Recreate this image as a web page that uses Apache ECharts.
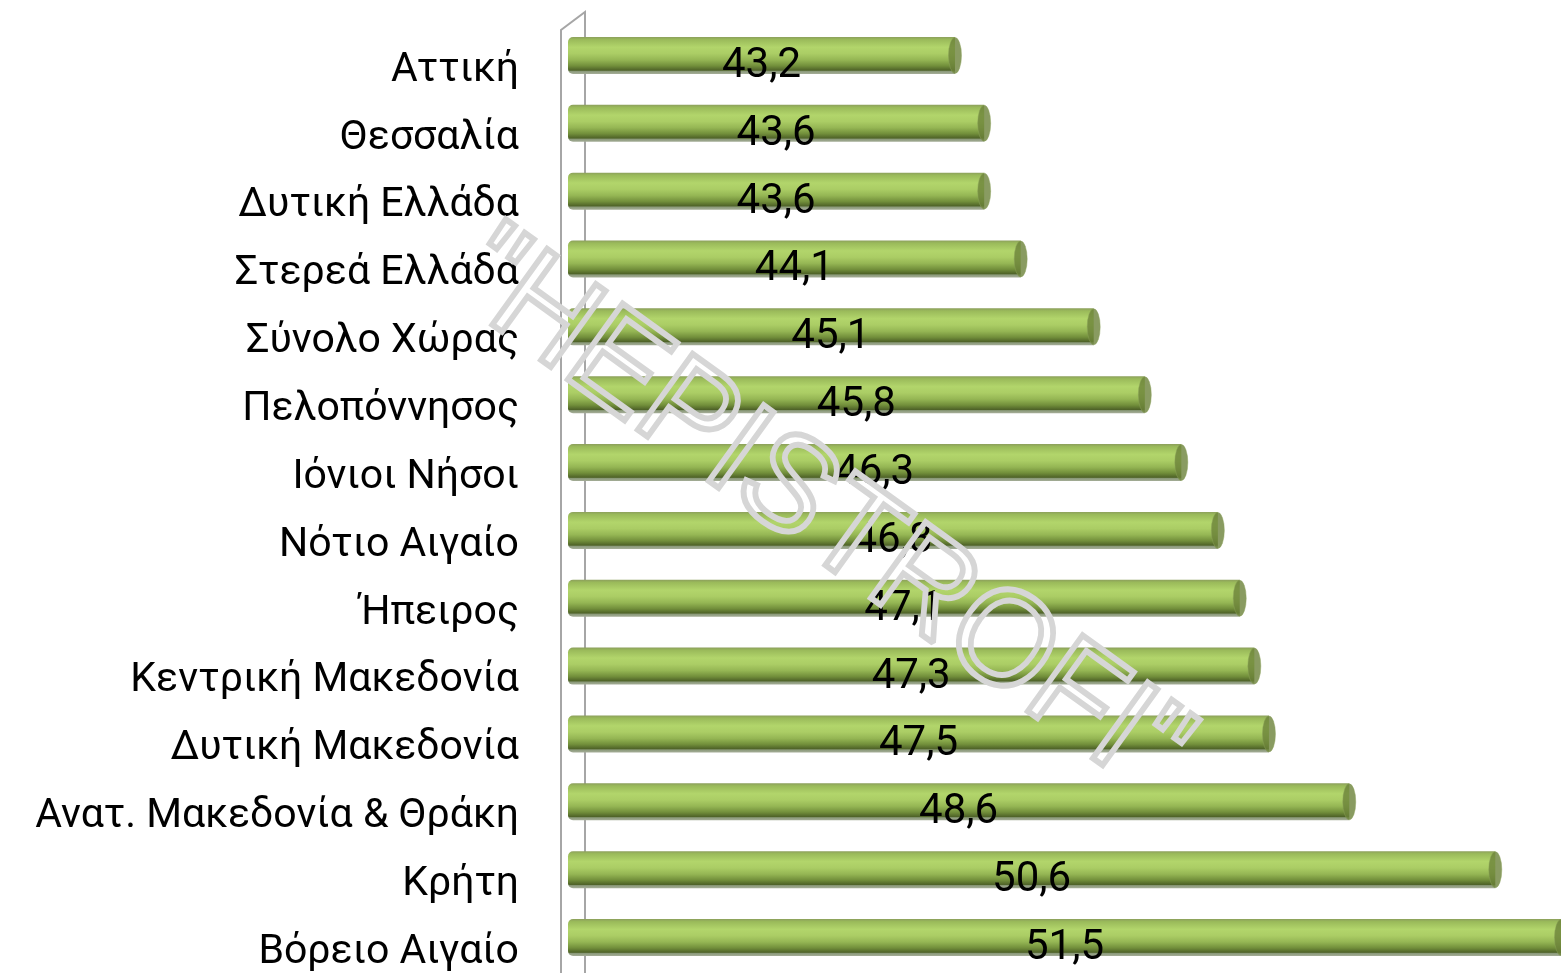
<!DOCTYPE html>
<html>
<head>
<meta charset="utf-8">
<script src="https://cdn.jsdelivr.net/npm/echarts@6/dist/echarts.min.js"></script>
<style>
html,body{margin:0;padding:0;background:#fff;}
#chart{width:1561px;height:973px;}
</style>
</head>
<body>
<div id="chart"></div>
<script>
var categories = ['Αττική','Θεσσαλία','Δυτική Ελλάδα','Στερεά Ελλάδα','Σύνολο Χώρας','Πελοπόννησος','Ιόνιοι Νήσοι','Νότιο Αιγαίο','Ήπειρος','Κεντρική Μακεδονία','Δυτική Μακεδονία','Ανατ. Μακεδονία & Θράκη','Κρήτη','Βόρειο Αιγαίο'];
var values = [43.2,43.6,43.6,44.1,45.1,45.8,46.3,46.8,47.1,47.3,47.5,48.6,50.6,51.5];
var watermarkText = '"HEPISTROFI"';

var chart = echarts.init(document.getElementById('chart'), null, {renderer:'canvas'});
var barGrad = new echarts.graphic.LinearGradient(0,0,0,1,[
  {offset:0,color:'#8c9f5c'},
  {offset:0.07,color:'#9aba5a'},
  {offset:0.28,color:'#b2d56b'},
  {offset:0.45,color:'#abcd65'},
  {offset:0.62,color:'#95b654'},
  {offset:0.78,color:'#728f3b'},
  {offset:0.9,color:'#4f6328'},
  {offset:0.93,color:'#8b9a7a'},
  {offset:1,color:'#a5ad98'}
]);
var capData = values.map(function(v,i){return [v, categories[i]];});
chart.setOption({
  animation:false,
  grid:{left:568,right:-3,top:21.5,bottom:1,containLabel:false},
  xAxis:{type:'value',min:37.9,max:51.5,show:false},
  yAxis:{type:'category',inverse:true,data:categories,
    axisLine:{show:false},axisTick:{show:false},splitLine:{show:false},
    axisLabel:{margin:49,
      formatter:function(v){return '{a|'+v+'}';},
      rich:{a:{fontFamily:'Roboto',fontSize:41,color:'#000',padding:[30,0,0,0]}}
    }
  },
  series:[
    {type:'bar',data:values,barWidth:37,z:3,
     itemStyle:{color:barGrad,borderRadius:[5,0,0,5]},
     label:{show:true,position:'inside',offset:[0,11],fontFamily:'Roboto',fontSize:42,color:'#000',
       formatter:function(p){return String(p.value).replace('.',',');}}
    },
    {type:'scatter',data:capData,symbol:'circle',symbolSize:[13,36],z:4,
     itemStyle:{color:'#6c8239',borderColor:'#8aa25a',borderWidth:0.5},silent:true}
  ],
  graphic:[
    {type:'polyline',z:0,shape:{points:[[561,973],[561,30],[585,12],[585,973]]},
     style:{stroke:'#a6a6a6',lineWidth:2,fill:null}},
    {type:'text',z:100,x:820,y:515,rotation:-0.625,scaleX:0.95,scaleY:1,
     style:{text:watermarkText,fontFamily:'Liberation Sans',fontWeight:'normal',fontSize:136,fill:'rgba(255,255,255,0)',
       stroke:'#d6d6d6',lineWidth:6,align:'center',verticalAlign:'middle'}}
  ]
});
</script>
</body>
</html>
